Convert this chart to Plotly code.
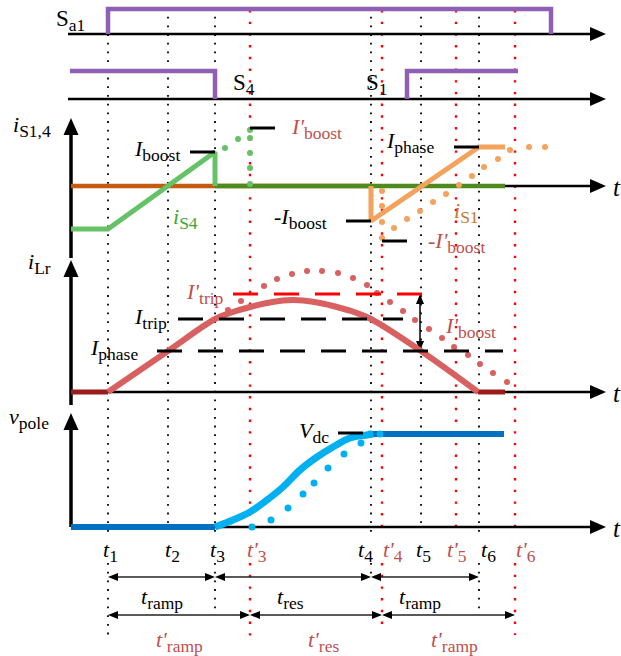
import plotly.graph_objects as go

W, H = 621, 656
FONT = "Times New Roman, Liberation Serif, serif"
MAIN_SIZE = 22
SUB_SIZE = 17.5

# ---------------- time instants (common time axis) ----------------
T_LABELS = ["1", "2", "3", "4", "5", "6"]
T_VALUES = [108, 168, 215, 371, 421, 479]
TP_LABELS = ["3", "4", "5", "6"]
TP_VALUES = [250, 382, 456, 515]

# ---------------- gate signals ----------------
SA1_T = [108, 108, 551, 551]
SA1_V = [0, 25, 25, 0]
S4_T = [70, 215, 215]
S4_V = [28, 28, 0]
S1_T = [407, 407, 518]
S1_V = [0, 28, 28]

# ---------------- switch currents i_S1, i_S4 ----------------
IS4_T = [71, 108, 215, 215]
IS4_V = [-43, -43, 34, 0]
IS4_OFF_T = [215, 505]
IS1_OFF_T = [71, 371]
IS1_T = [371, 371, 479, 505]
IS1_V = [0, -35, 39, 39]
IS4_ALT_T = [225, 238, 250, 250, 250, 250, 250]
IS4_ALT_V = [38, 47, 56, 48, 33, 18, 2]
IS1_ALT_T = [382, 382, 382, 382, 394, 407, 420, 433, 446, 459, 472, 484, 498, 510, 529, 545]
IS1_ALT_V = [-5, -20, -36, -52, -42, -33, -25, -16, -8, 1, 10, 19, 27, 36, 39, 39]
I_BOOST = 34
I_BOOST_ALT = 58
I_PHASE_S = 39
NEG_I_BOOST = -35
NEG_I_BOOST_ALT = -55

# ---------------- resonant inductor current i_Lr ----------------
ILR_T = [108, 168, 215, 233, 250, 267, 283, 293, 303, 320, 337, 354, 371, 421, 478]
ILR_V = [0, 41, 73, 80, 85, 89, 91.5, 92, 91.5, 89, 85, 80, 73, 41, 0]
ILR_OFF1_T = [71, 108]
ILR_OFF2_T = [478, 505]
ILR_ALT_T = [228, 241, 264, 277, 292, 307, 322, 338, 353, 367, 377, 390, 403, 415,
             429, 442, 454, 468, 480, 493, 507]
ILR_ALT_V = [82, 91, 106, 113, 118, 121, 121, 119, 114, 107, 99, 90, 81, 72,
             63, 54, 45, 37, 28, 19, 10]
I_PHASE = 41
I_TRIP = 73
I_TRIP_ALT = 98

# ---------------- pole voltage v_pole ----------------
VP_T = [215, 233, 250, 267, 283, 300, 317, 333, 350, 367, 373]
VP_V = [0, 7, 15, 27, 40, 57, 70, 80, 89, 92, 93]
VP_LOW_T = [71, 215]
VP_HIGH_T = [371, 504]
VP_ALT_T = [252, 271, 288, 303, 314, 328, 344, 361, 370, 380]
VP_ALT_V = [0, 7, 19, 33, 44, 59, 73, 84, 93, 93]
V_DC = 93

# ---------------- colours ----------------
PURPLE = "#8e5fb4"
ORANGE_DARK = "#c55a11"
ORANGE = "#f4a25c"
GREEN = "#66c266"
GREEN_DARK = "#4f8a1e"
RED_DARK = "#9b1c1c"
RED_LIGHT = "#d96060"
BLUE_DARK = "#0070c0"
BLUE = "#00b0f0"
GUIDE_RED = "#ff0000"
TXT_RED = "#c0504d"

# baseline (pixel row) of each panel; 1 value unit = 1 px
BASE = {"y2": 34, "y3": 99, "y4": 186, "y5": 392, "y6": 527}

fig = go.Figure()


def line(x, y, ax="y", color="black", width=2.0, dash=None, shape="linear", opacity=1.0):
    fig.add_trace(go.Scatter(
        x=x, y=y, yaxis=ax, mode="lines", hoverinfo="skip", opacity=opacity,
        line=dict(color=color, width=width, dash=dash, shape=shape)))


def dots(x, y, ax, color, size):
    fig.add_trace(go.Scatter(
        x=x, y=y, yaxis=ax, mode="markers", hoverinfo="skip",
        marker=dict(color=color, size=size, line=dict(width=0))))


def head(xt, yt, dx, dy, length, half):
    """filled arrow head (pixel axis) with tip at (xt, yt) pointing along (dx, dy)"""
    bx, by = xt - dx * length, yt - dy * length
    px, py = -dy, dx
    fig.add_trace(go.Scatter(
        x=[xt, bx + px * half, bx - px * half, xt],
        y=[yt, by + py * half, by - py * half, yt],
        yaxis="y", mode="lines", fill="toself", fillcolor="black",
        line=dict(width=0, color="black"), hoverinfo="skip"))


def text(x, y, s, color="black", size=MAIN_SIZE, xanchor="left", yanchor="middle", ax="y"):
    fig.add_annotation(x=x, y=y, xref="x", yref=ax, text=s, showarrow=False,
                       xanchor=xanchor, yanchor=yanchor,
                       font=dict(family=FONT, size=size, color=color))


def sym(main, sub="", italic=True):
    s = f"<i>{main}</i>" if italic else main
    if sub:
        s += f"<sub><span style='font-size:{SUB_SIZE}px'>{sub}</span></sub>"
    return s


# ---------------- vertical guides at the switching instants ----------------
guide_end = {108: 638, 168: 530, 215: 612, 371: 580, 421: 530, 479: 613}
guide_end_alt = {250: 638, 382: 627, 456: 530, 515: 635}
BLACK_DOT = "1.8px,6.9px"
RED_DOT = "2.4px,9.3px"
for t in T_VALUES:
    end = guide_end[t]
    line([t, t], [8, min(end, 536)], color="black", width=1.8, dash=BLACK_DOT)
    if end > 560:
        line([t, t], [563, end], color="black", width=1.8, dash=BLACK_DOT)
for t in TP_VALUES:
    end = guide_end_alt[t]
    line([t, t], [10, min(end, 536)], color=GUIDE_RED, width=2.4, dash=RED_DOT)
    if end > 560:
        line([t, t], [563, end], color=GUIDE_RED, width=2.4, dash=RED_DOT)

# ---------------- axes ----------------
X_AXIS0, X_TIP = 71, 606
for ax, x0 in [("y2", 68), ("y3", 68), ("y4", 71), ("y5", 71), ("y6", 71)]:
    yb = BASE[ax]
    line([x0, X_TIP - 6], [yb, yb], color="black", width=2.5)
    head(X_TIP, yb, 1, 0, 16, 7)
for yb, ytip in [(258, 118), (405, 260), (527, 413)]:
    line([X_AXIS0, X_AXIS0], [yb, ytip + 6], color="black", width=3.5)
    head(X_AXIS0, ytip, 0, -1, 17, 7.5)
for ax in ["y4", "y5", "y6"]:
    text(617, BASE[ax] + 1, "<i>t</i>", size=25, xanchor="center")

# ---------------- gate signals ----------------
line(SA1_T, SA1_V, "y2", PURPLE, 4.5)
line(S4_T, S4_V, "y3", PURPLE, 4.5)
line(S1_T, S1_V, "y3", PURPLE, 4.5)
text(54, 20, sym("S", "a1", italic=False), size=23)
text(231, 84, sym("S", "4", italic=False), size=23)
text(364, 84, sym("S", "1", italic=False), size=23)

# ---------------- switch currents ----------------
line(IS1_OFF_T, [0, 0], "y4", ORANGE_DARK, 4.5)
line(IS4_OFF_T, [0, 0], "y4", GREEN_DARK, 4.5)
line(IS4_T, IS4_V, "y4", GREEN, 5)
line(IS1_T, IS1_V, "y4", ORANGE, 5)
dots(IS4_ALT_T, IS4_ALT_V, "y4", GREEN, 6)
dots(IS1_ALT_T, IS1_ALT_V, "y4", ORANGE, 6)
t1, t2, t3, t4, t5, t6 = T_VALUES
tp3, tp4, tp5, tp6 = TP_VALUES
TICK = 25
line([t3 - TICK, t3], [I_BOOST, I_BOOST], "y4", "black", 3)
line([tp3, tp3 + TICK], [I_BOOST_ALT, I_BOOST_ALT], "y4", "black", 3)
line([t6 - TICK, t6], [I_PHASE_S, I_PHASE_S], "y4", "black", 3)
line([t4 - TICK, t4], [NEG_I_BOOST, NEG_I_BOOST], "y4", "black", 3)
line([tp4, tp4 + TICK], [NEG_I_BOOST_ALT, NEG_I_BOOST_ALT], "y4", "black", 3)
text(11, 126, sym("i", "S1,4"))
text(182, 150, sym("I", "boost"), xanchor="right")
text(289, 128, sym("I'", "boost"), color=TXT_RED)
text(171, 218, sym("i", "S4"), color="#3aa63a")
text(272, 218, "-" + sym("I", "boost"))
text(384, 142, sym("I", "phase"))
text(452, 212, sym("i", "S1"), color="#c9772c")
text(426, 242, "-" + sym("I'", "boost"), color=TXT_RED)

# ---------------- resonant current ----------------
line(ILR_OFF1_T, [0, 0], "y5", RED_DARK, 5)
line(ILR_OFF2_T, [0, 0], "y5", RED_DARK, 5)
line(ILR_T, ILR_V, "y5", RED_LIGHT, 6, shape="spline")
dots(ILR_ALT_T, ILR_ALT_V, "y5", RED_LIGHT, 6)
DASH = "25px,16px"
line([157, 503], [I_PHASE, I_PHASE], "y5", "black", 3, dash=DASH)
line([178, 403], [I_TRIP, I_TRIP], "y5", "black", 3, dash=DASH)
line([233, 423], [I_TRIP_ALT, I_TRIP_ALT], "y5", GUIDE_RED, 3, dash=DASH)
y_hi, y_lo = BASE["y5"] - I_TRIP_ALT, BASE["y5"] - I_PHASE
line([420, 420], [y_hi + 6, y_lo - 6], "y", "black", 1.5)
head(420, y_hi, 0, -1, 10, 4)
head(420, y_lo, 0, 1, 10, 4)
text(26, 263, sym("i", "Lr"))
text(184, 293, sym("I'", "trip"), color=TXT_RED)
text(169, 318, sym("I", "trip"), xanchor="right")
text(140, 349, sym("I", "phase"), xanchor="right")
text(443, 327, sym("I'", "boost"), color=TXT_RED)

# ---------------- pole voltage ----------------
line(VP_LOW_T, [0, 0], "y6", BLUE_DARK, 6)
line(VP_HIGH_T, [V_DC, V_DC], "y6", BLUE_DARK, 6)
line(VP_T, VP_V, "y6", BLUE, 7, shape="spline")
dots(VP_ALT_T, VP_ALT_V, "y6", BLUE, 7)
line([t4 - 33, t4 - 8], [V_DC + 1, V_DC + 1], "y6", "black", 3)
text(7, 418, sym("v", "pole"))
text(331, 432, sym("V", "dc"), xanchor="right")

# ---------------- time labels ----------------
T_LABEL_X = [101, 163, 208, 356, 414, 479]
TP_LABEL_X = [245, 381, 445, 514]
for lab, xl in zip(T_LABELS, T_LABEL_X):
    text(xl, 551, sym("t", lab))
for lab, xl in zip(TP_LABELS, TP_LABEL_X):
    text(xl, 551, sym("t'", lab), color=TXT_RED)


# ---------------- interval arrows ----------------
def interval(xa, xb, y):
    line([xa + 4, xb - 4], [y, y], "y", "#222222", 1.6)
    head(xa, y, -1, 0, 10, 4)
    head(xb, y, 1, 0, 10, 4)


for xa, xb in [(t1, t3), (t3, t4), (t4, t6)]:
    interval(xa, xb, 577)
for xa, xb in [(t1, tp3), (tp3, tp4), (tp4, tp6)]:
    interval(xa, xb, 615)
text(162, 598, sym("t", "ramp"), xanchor="center")
text(290, 598, sym("t", "res"), xanchor="center")
text(420, 598, sym("t", "ramp"), xanchor="center")
text(179, 641, sym("t'", "ramp"), color=TXT_RED, xanchor="center")
text(323, 641, sym("t'", "res"), color=TXT_RED, xanchor="center")
text(454, 641, sym("t'", "ramp"), color=TXT_RED, xanchor="center")

# ---------------- layout ----------------
layout = dict(
    width=W, height=H, margin=dict(l=0, r=0, t=0, b=0),
    paper_bgcolor="white", plot_bgcolor="white", showlegend=False,
    xaxis=dict(range=[0, W], visible=False, fixedrange=True),
    yaxis=dict(range=[H, 0], domain=[0, 1], visible=False, fixedrange=True),
)
for i, ax in enumerate(["y2", "y3", "y4", "y5", "y6"], start=2):
    b = BASE[ax]
    layout[f"yaxis{i}"] = dict(range=[b - H, b], domain=[0, 1], overlaying="y",
                               visible=False, fixedrange=True)
fig.update_layout(**layout)
fig.write_html("out.html")
